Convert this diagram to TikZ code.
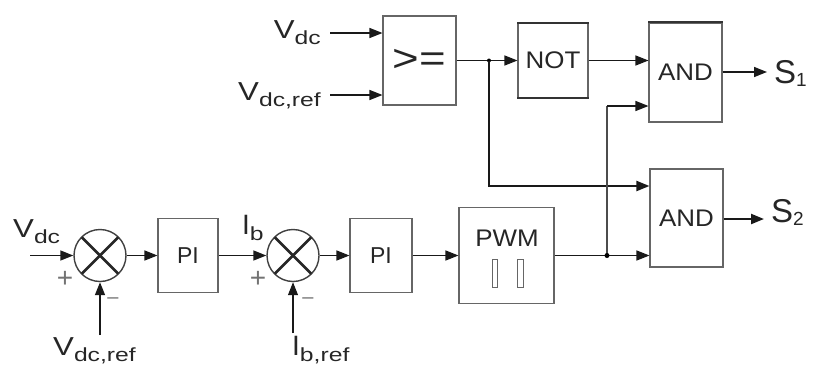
\documentclass[tikz,border=0pt]{standalone}
\usepackage{fontspec}
\setmainfont{Liberation Sans}
\usetikzlibrary{arrows.meta}
\newcommand{\fsz}[1]{\fontsize{#1}{#1}\selectfont}
\newcommand{\mysub}[1]{\raisebox{-6pt}{\fsz{19}\scalebox{1.3}[1]{#1}}}
\begin{document}
\begin{tikzpicture}[x=1pt,y=-1pt,
  blk/.style={draw=black!60, line width=1.1pt, inner sep=0pt, fill=white, text=black!85},
  wire/.style={line width=1.5pt, draw=black!90},
  arr/.style={wire, -{Triangle[length=13pt,width=10pt]}},
  lab/.style={inner sep=0pt, text=black!85},
  sgn/.style={inner sep=0pt, text=black!55},
  jdot/.style={circle, fill=black, inner sep=0pt, minimum size=5pt},
  sumc/.style={circle, draw=black!75, line width=1.4pt, minimum size=52pt, inner sep=0pt},
  xline/.style={line width=2.6pt, draw=black!85, shorten <=1pt, shorten >=1pt}]
\useasboundingbox (0,0) rectangle (813,367);

% blocks
\node[blk, minimum width=73pt, minimum height=89pt] (ge) at (419.5,60.5) {\fsz{38}\scalebox{1.2}[1]{>=}};
\node[blk, minimum width=70pt, minimum height=74pt] (notb) at (553,60.5) {\fsz{24}\scalebox{1.08}[1]{NOT}};
\node[blk, minimum width=73pt, minimum height=99pt] (and1) at (685.5,72.5) {\fsz{24}\scalebox{1.08}[1]{AND}};
\node[blk, minimum width=73pt, minimum height=98pt] (and2) at (686.5,218) {\fsz{24}\scalebox{1.08}[1]{AND}};
\node[blk, minimum width=95pt, minimum height=96pt] (pwm) at (506.5,255.5) {};
\node[lab] (pwmt) at (507,238) {\fsz{24}\scalebox{1.08}[1]{PWM}};
\draw[draw=black!60, line width=0.9pt] (492,259) rectangle (497,287);
\draw[draw=black!60, line width=0.9pt] (517,259) rectangle (523,287);
\node[blk, minimum width=60pt, minimum height=74pt] (pi1) at (188,255.5) {\fsz{23}PI};
\node[blk, minimum width=62pt, minimum height=74pt] (pi2) at (381,255.5) {\fsz{23}PI};

% darker edges
\draw[line width=2pt, black!80] (notb.north west) -- (notb.north east);
\draw[line width=2pt, black!80] (notb.south west) -- (notb.south east);
\draw[line width=2pt, black!80] (and1.north west) -- (and1.north east);

% summing junctions
\node[sumc] (sum1) at (100,255.5) {};
\node[sumc] (sum2) at (293,255.5) {};
\draw[xline] (sum1.45) -- (sum1.225);
\draw[xline] (sum1.135) -- (sum1.315);
\draw[xline] (sum2.45) -- (sum2.225);
\draw[xline] (sum2.135) -- (sum2.315);

% labels
\node[lab, anchor=base east] (vdcA) at (321,38) {\fsz{26}\scalebox{1.2}[1]{V}\mysub{dc}};
\node[lab, anchor=base east] (vrefA) at (321,100) {\fsz{26}\scalebox{1.2}[1]{V}\mysub{dc,ref}};
\node[lab, anchor=base west] (vdcB) at (13,237) {\fsz{26}\scalebox{1.2}[1]{V}\mysub{dc}};
\node[lab, anchor=base west] (vrefB) at (53,355) {\fsz{26}\scalebox{1.2}[1]{V}\mysub{dc,ref}};
\node[lab, anchor=base west] (ib) at (242,234) {\fsz{28}I\mysub{b}};
\node[lab, anchor=base west] (ibref) at (292,355) {\fsz{28}I\mysub{b,ref}};
\node[lab, anchor=base west] (S1) at (774,83) {\fsz{33}S\raisebox{-3pt}{\fsz{19}1}};
\node[lab, anchor=base west] (S2) at (771,222) {\fsz{33}S\raisebox{-3pt}{\fsz{19}2}};
\node[sgn] (p1) at (65,279) {\fsz{28}+};
\node[sgn] (p2) at (258,279) {\fsz{28}+};
\node[sgn] (m1) at (113,301) {\fsz{20}\char"2013};
\node[sgn] (m2) at (308,301) {\fsz{20}\char"2013};

% top wires
\coordinate (vdcAin) at (330,33);
\coordinate (vrefAin) at (330,95);
\draw[arr] (vdcAin) -- (vdcAin -| ge.west);
\draw[arr] (vrefAin) -- (vrefAin -| ge.west);
\coordinate (j1) at (489,60.5);
\draw[wire] (ge.east) -- (j1);
\draw[arr] (j1) -- (notb.west);
\node[jdot, minimum size=4pt] (j1d) at (j1) {};
\coordinate (a2u) at (0,186);
\draw[arr, line width=2pt] (j1) |- (a2u -| and2.west);
\draw[arr] (notb.east) -- (notb.east -| and1.west);
\coordinate (j2) at (607,255.5);
\coordinate (a1l) at (0,106);
\draw[wire, line width=1.1pt, draw=black!70] (j2) -- (j2 |- a1l);
\draw[arr] (j2 |- a1l) -- (a1l -| and1.west);
\draw[wire] (pwm.east) -- (j2);
\draw[arr] (j2) -- (j2 -| and2.west);
\node[jdot, minimum size=5pt] (j2d) at (j2) {};
\coordinate (s1t) at (767,72);
\coordinate (s2t) at (764,219);
\draw[arr] (s1t -| and1.east) -- (s1t);
\draw[arr, line width=2.2pt] (s2t -| and2.east) -- (s2t);

% bottom chain
\coordinate (in1) at (30,255.5);
\draw[arr] (in1) -- (sum1.west);
\draw[arr] (sum1.east) -- (pi1.west);
\draw[arr] (pi1.east) -- (sum2.west);
\draw[arr] (sum2.east) -- (pi2.west);
\draw[arr] (pi2.east) -- (pwm.west);
\coordinate (r1) at (100,335);
\coordinate (r2) at (293,333);
\draw[arr] (r1) -- (sum1.south);
\draw[arr, line width=1.1pt] (r2) -- (sum2.south);
\end{tikzpicture}
\end{document}
